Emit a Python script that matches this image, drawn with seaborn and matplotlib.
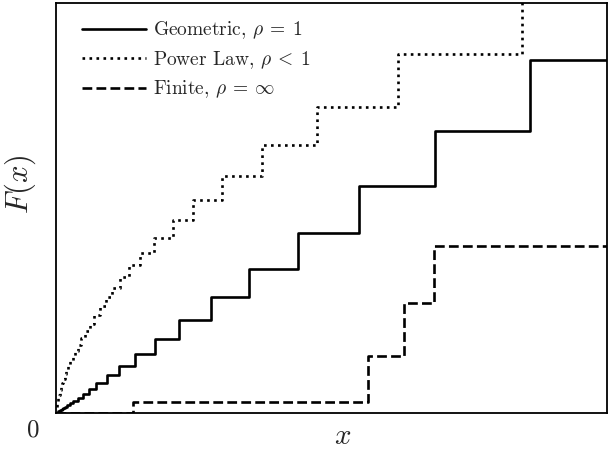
import matplotlib
matplotlib.use("Agg")
import matplotlib.pyplot as plt
import numpy as np
import pandas as pd
import seaborn as sns

# step positions (x) and the value F(x) takes from each step on
geo_x = [0.0, 0.004, 0.006, 0.008, 0.010, 0.013, 0.016, 0.020, 0.025, 0.031, 0.039, 0.049,
         0.060, 0.073, 0.093, 0.114, 0.143, 0.180, 0.223, 0.281, 0.350, 0.439, 0.550,
         0.688, 0.860, 1.0]
geo_y = [0.0, 0.004, 0.006, 0.008, 0.010, 0.012, 0.015, 0.019, 0.024, 0.030, 0.037, 0.046,
         0.059, 0.073, 0.093, 0.115, 0.144, 0.180, 0.227, 0.283, 0.351, 0.439, 0.554,
         0.688, 0.861, 0.861]

pow_x = [0.0, 0.001, 0.002, 0.003, 0.004, 0.005, 0.007, 0.009, 0.011, 0.013, 0.016, 0.019,
         0.022, 0.026, 0.030, 0.035, 0.040, 0.046, 0.053, 0.061, 0.069, 0.079, 0.090,
         0.102, 0.116, 0.132, 0.152, 0.178, 0.212, 0.249, 0.301, 0.374, 0.474, 0.621,
         0.846, 1.0]
pow_y = [0.0, 0.015, 0.024, 0.031, 0.038, 0.045, 0.055, 0.065, 0.074, 0.083, 0.094, 0.104,
         0.115, 0.127, 0.139, 0.152, 0.166, 0.182, 0.200, 0.218, 0.238, 0.260, 0.282,
         0.305, 0.332, 0.361, 0.390, 0.427, 0.471, 0.520, 0.578, 0.654, 0.746, 0.876,
         1.058, 1.058]

fin_x = [0.0, 0.140, 0.566, 0.632, 0.686, 1.0]
fin_y = [0.0, 0.027, 0.139, 0.268, 0.407, 0.407]

labels = [r"Geometric, $\rho\:=\:1$", r"Power Law, $\rho\:<\:1$", r"Finite, $\rho\:=\:\infty$"]

sns.set_style("white")
plt.rcParams["font.family"] = "serif"
plt.rcParams["font.serif"] = ["cmr10", "DejaVu Serif"]
plt.rcParams["mathtext.fontset"] = "cm"
plt.rcParams["axes.unicode_minus"] = False

fig = plt.figure(figsize=(6.11, 4.49), dpi=100)
ax = fig.add_axes([0.0917, 0.0802, 0.9018, 0.9131])

sns.lineplot(x=geo_x, y=geo_y, ax=ax, color="black", lw=1.9, linestyle="-",
             drawstyle="steps-post", estimator=None, label=labels[0])
sns.lineplot(x=pow_x, y=pow_y, ax=ax, color="black", lw=1.9, linestyle=":",
             drawstyle="steps-post", estimator=None, label=labels[1])
sns.lineplot(x=fin_x, y=fin_y, ax=ax, color="black", lw=1.9, linestyle="--",
             drawstyle="steps-post", estimator=None, label=labels[2])

ax.set_xlim(0, 1)
ax.set_ylim(0, 1)
ax.set_xticks([])
ax.set_yticks([])
for s in ax.spines.values():
    s.set_color("black")
    s.set_linewidth(1.3)

ax.set_xlabel(r"$x$", fontsize=21)
ax.set_ylabel(r"$F(x)$", fontsize=22)
ax.xaxis.set_label_coords(0.52, -0.025)
ax.yaxis.set_label_coords(-0.032, 0.558)
ax.text(-0.042, -0.043, "0", transform=ax.transAxes, fontsize=18, ha="center", va="center")

ax.legend(loc="upper left", frameon=False, fontsize=14, handlelength=3.3,
          handletextpad=0.4, labelspacing=0.4, borderaxespad=0.6,
          borderpad=0.4, bbox_to_anchor=(0.011, 1.007))

fig.savefig("out.png", dpi=100)
